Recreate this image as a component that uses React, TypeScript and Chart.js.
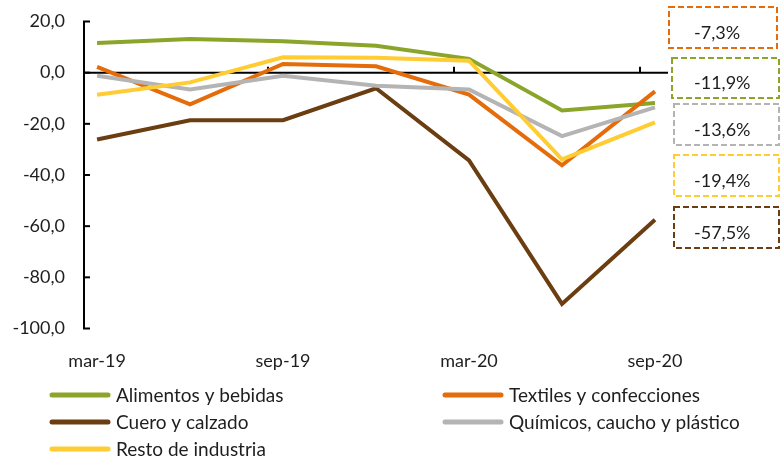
import React, { useEffect, useRef } from 'react';
import { Chart, registerables } from 'chart.js';
Chart.register(...registerables);

const categories = ['mar-19', 'jun-19', 'sep-19', 'dec-19', 'mar-20', 'jun-20', 'sep-20'];
const xTickLabels = ['mar-19', 'sep-19', 'mar-20', 'sep-20'];
const seriesNames = [
  'Alimentos y bebidas',
  'Textiles y confecciones',
  'Cuero y calzado',
  'Químicos, caucho y plástico',
  'Resto de industria',
];
const alimentos = [11.6, 13.2, 12.3, 10.5, 5.4, -14.8, -11.9];
const textiles = [2.3, -12.4, 3.4, 2.5, -8.6, -36.2, -7.3];
const cuero = [-26.1, -18.6, -18.6, -6.1, -34.3, -90.4, -57.5];
const quimicos = [-1.2, -6.6, -1.2, -5.1, -6.6, -24.8, -13.6];
const resto = [-8.6, -3.8, 6.0, 5.8, 4.7, -33.9, -19.4];
const yTicks = [20, 0, -20, -40, -60, -80, -100];
const colors = ['#8AA52A', '#E46C0A', '#6B3E12', '#B4B4B4', '#FFCC33'];

const FONT = 'Lato, "Open Sans", sans-serif';
const TEXT = '#1e1e1e';

// layout of the annotation boxes (top to bottom)
const boxRects = [
  [668, 6, 110, 43],
  [671, 57, 109, 42],
  [673, 103, 107, 43],
  [673, 154, 107, 43],
  [673, 206, 107, 43],
];

const fmt = (v: number) => v.toFixed(1).replace('.', ',');

const axisPlugin = {
  id: 'excelAxes',
  beforeDatasetsDraw(chart: any) {
    const { ctx, chartArea, scales } = chart;
    const x = scales.x;
    const y = scales.y;
    ctx.save();
    ctx.strokeStyle = '#000';
    ctx.lineWidth = 2;
    const ax = chartArea.left - 1;
    ctx.beginPath();
    ctx.moveTo(ax, y.getPixelForValue(20));
    ctx.lineTo(ax, y.getPixelForValue(-100));
    ctx.stroke();
    yTicks.forEach((v) => {
      const py = y.getPixelForValue(v);
      ctx.beginPath();
      ctx.moveTo(ax - 1, py);
      ctx.lineTo(ax + 6, py);
      ctx.stroke();
    });
    const zy = y.getPixelForValue(0);
    ctx.beginPath();
    ctx.moveTo(ax, zy);
    ctx.lineTo(chartArea.right, zy);
    ctx.stroke();
    [2, 4, 6].forEach((k) => {
      const px = Math.round(x.getPixelForValue(k - 0.16));
      ctx.beginPath();
      ctx.moveTo(px, zy);
      ctx.lineTo(px, zy - 6);
      ctx.stroke();
    });
    ctx.restore();
  },
};

const overlayPlugin = {
  id: 'overlay',
  afterDraw(chart: any) {
    const { ctx } = chart;
    const datasets = chart.data.datasets;
    ctx.save();
    const cols = [50, 443];
    const rows = [395, 422, 449];
    ctx.font = `19px ${FONT}`;
    ctx.textBaseline = 'middle';
    ctx.textAlign = 'left';
    datasets.forEach((ds: any, i: number) => {
      const cx = cols[i % 2];
      const ry = rows[Math.floor(i / 2)];
      ctx.strokeStyle = ds.borderColor;
      ctx.lineWidth = 5;
      ctx.lineCap = 'round';
      ctx.beginPath();
      ctx.moveTo(cx + 2, ry);
      ctx.lineTo(cx + 58, ry);
      ctx.stroke();
      ctx.fillStyle = TEXT;
      ctx.fillText(ds.label, cx + 66, ry + 1);
    });
    const order = datasets
      .map((ds: any, i: number) => ({ i, v: ds.data[ds.data.length - 1].y }))
      .sort((a: any, b: any) => b.v - a.v);
    ctx.lineCap = 'butt';
    ctx.font = `18px ${FONT}`;
    ctx.textBaseline = 'alphabetic';
    order.forEach((o: any, k: number) => {
      const [bx, by, bw, bh] = boxRects[k];
      ctx.strokeStyle = datasets[o.i].borderColor;
      ctx.lineWidth = 2;
      ctx.setLineDash([6, 3]);
      ctx.strokeRect(bx + 1, by + 1, bw - 2, bh - 2);
      ctx.setLineDash([]);
      ctx.fillStyle = TEXT;
      ctx.fillText(fmt(o.v) + '%', 694, by + bh / 2 + 11);
    });
    ctx.restore();
  },
};

export default function App() {
  const ref = useRef<HTMLCanvasElement | null>(null);
  useEffect(() => {
    document.body.style.margin = '0';
    const series = [alimentos, textiles, cuero, quimicos, resto];
    const chart = new Chart(ref.current as HTMLCanvasElement, {
      type: 'line',
      data: {
        datasets: series.map((vals, i) => ({
          label: seriesNames[i],
          data: vals.map((v, j) => ({ x: j, y: v })),
          borderColor: colors[i],
          backgroundColor: colors[i],
          borderWidth: 4,
          pointRadius: 0,
          tension: 0,
          fill: false,
          order: series.length - i,
        })),
      },
      options: {
        animation: false,
        responsive: false,
        maintainAspectRatio: false,
        layout: { padding: { top: 21.5, right: 112, bottom: 86.5, left: 0 } },
        plugins: { legend: { display: false }, tooltip: { enabled: false } },
        scales: {
          x: {
            type: 'linear',
            min: -0.13,
            max: 6.14,
            grid: { display: false },
            border: { display: false },
            afterBuildTicks: (s: any) => {
              s.ticks = categories
                .map((c, i) => ({ c, i }))
                .filter((o) => xTickLabels.includes(o.c))
                .map((o) => ({ value: o.i }));
            },
            afterFit: (s: any) => {
              s.height = 42;
            },
            ticks: {
              autoSkip: false,
              maxRotation: 0,
              padding: 14,
              color: TEXT,
              font: { family: FONT, size: 18 },
              callback: (v: any) => categories[v] ?? '',
            },
          },
          y: {
            min: -100,
            max: 20,
            grid: { display: false },
            border: { display: false },
            afterBuildTicks: (s: any) => {
              s.ticks = yTicks.map((v) => ({ value: v }));
            },
            afterFit: (s: any) => {
              s.width = 85;
              s.paddingTop = 0;
              s.paddingBottom = 0;
            },
            ticks: {
              padding: 12,
              color: TEXT,
              font: { family: FONT, size: 18 },
              callback: (v: any) => fmt(Number(v)),
            },
          },
        },
      },
      plugins: [axisPlugin, overlayPlugin],
    } as any);
    return () => chart.destroy();
  }, []);
  return (
    <div style={{ width: 780, height: 457, background: '#fff' }}>
      <canvas ref={ref} width={780} height={457} style={{ display: 'block' }} />
    </div>
  );
}
